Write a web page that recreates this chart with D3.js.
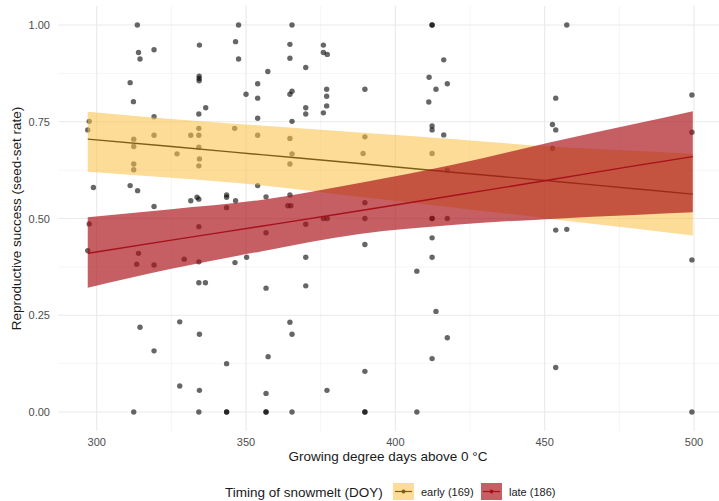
<!DOCTYPE html>
<html>
<head>
<meta charset="utf-8">
<script src="https://cdn.jsdelivr.net/npm/d3@7"></script>
<style>
  body { margin: 0; background: #fff; }
  text { font-family: "Liberation Sans", Arial, sans-serif; }
</style>
</head>
<body>
<script>
// observed data: growing degree days vs seed-set rate
var gdd = [313.6,347.5,365.4,412.3,412.3,457.4,
  314,314.5,319.2,334.4,346.5,347.5,364.7,364.7,375.9,375.9,377.2,416.2,
  370,357.3,311.2,334.3,334.3,334.3,353.9,350,353.9,364.7,365.4,377,377,377,370,370,375.9,312.3,336.5,334.2,411.3,413.6,417.4,389.8,411.2,453.7,499.3,
  353.9,365.4,319.2,297.5,297,312.4,312.4,319.2,331.5,334.2,334.2,334.2,346.2,353.9,364.7,389.8,412.3,412.3,416.2,452.6,453.7,499.3,
  334.4,334.2,326.9,365.4,364.7,312.4,312.4,389.2,412.3,452.6,417.4,
  298.9,311.2,313.7,319.2,331.5,333.6,334.2,343.5,343.5,346.5,353.9,356.7,364.7,364,365,343.5,389.8,389.8,375.9,377.2,412.3,412.3,417.4,
  370,297.5,334.2,356.7,389.8,297,314,412.3,453.7,457.4,412.3,370,350.2,
  313.4,319.2,329.3,334.2,346.3,334.2,336.4,407.2,499.3,356.7,370,
  413.6,327.8,364.7,314.5,334.4,365.4,
  417.4,412.3,453.7,389.8,319.2,357.4,343.5,
  327.8,334.4,356.7,377.1,312.4,334.2,343.5,343.5,356.7,356.7,365.4,389.8,389.8,407.2,499.3];
var seedSet = [1,1,1,1,1,1,
  0.929,0.912,0.936,0.948,0.957,0.912,0.950,0.914,0.948,0.929,0.924,0.910,
  0.890,0.880,0.851,0.868,0.862,0.856,0.848,0.821,0.811,0.821,0.829,0.834,0.816,0.791,0.786,0.770,0.773,0.802,0.786,0.770,0.865,0.834,0.848,0.834,0.801,0.811,0.819,
  0.759,0.751,0.763,0.751,0.729,0.705,0.686,0.715,0.715,0.733,0.715,0.684,0.733,0.715,0.707,0.711,0.739,0.729,0.716,0.743,0.729,0.723,
  0.654,0.636,0.667,0.667,0.641,0.641,0.626,0.668,0.668,0.681,0.625,
  0.580,0.585,0.572,0.531,0.546,0.555,0.550,0.561,0.555,0.546,0.585,0.556,0.561,0.533,0.533,0.528,0.541,0.500,0.500,0.500,0.500,0.500,0.500,
  0.485,0.486,0.479,0.463,0.433,0.417,0.410,0.450,0.470,0.472,0.400,0.400,0.400,
  0.382,0.380,0.395,0.388,0.386,0.334,0.334,0.364,0.393,0.320,0.326,
  0.260,0.233,0.232,0.219,0.201,0.201,
  0.192,0.138,0.115,0.105,0.158,0.143,0.125,
  0.067,0.056,0.048,0.056,0,0,0,0,0,0,0,0,0,0,0];

// fitted curves with confidence bands
var fitGdd = [297, 325, 355, 388, 420, 452, 480, 499.6];
var earlyFit = [0.705, 0.686, 0.665, 0.642, 0.619, 0.597, 0.577, 0.563];
var earlyLow = [0.621, 0.605, 0.586, 0.556, 0.528, 0.499, 0.474, 0.456];
var earlyHigh = [0.776, 0.757, 0.740, 0.722, 0.705, 0.686, 0.675, 0.667];
var lateFit = [0.410, 0.444, 0.480, 0.520, 0.560, 0.600, 0.636, 0.660];
var lateLow = [0.321, 0.370, 0.415, 0.460, 0.484, 0.499, 0.509, 0.516];
var lateHigh = [0.503, 0.524, 0.548, 0.592, 0.640, 0.697, 0.744, 0.777];

var xTicks = [300, 350, 400, 450, 500];
var xMinor = [325, 375, 425, 475];
var yTicks = [0, 0.25, 0.5, 0.75, 1];
var yMinor = [0.125, 0.375, 0.625, 0.875];
var groupLabels = ["early (169)", "late (186)"];

var width = 719, height = 501;
var panel = {left: 58, right: 719, top: 6, bottom: 431};
var ribbonFill = ["rgb(250,192,68)", "rgb(168,16,22)"];
var ribbonAlpha = [0.56, 0.67];
var lineColor = ["#7d5e18", "#a8101a"];

var svg = d3.select("body").append("svg")
  .attr("width", width)
  .attr("height", height);

var x = d3.scaleLinear().domain([300, 500]).range([96.7, 694]);
var y = d3.scaleLinear().domain([0, 1]).range([412, 25]);

// grid
var grid = svg.append("g");
grid.selectAll(".xminor").data(xMinor).enter().append("line")
  .attr("x1", d => x(d)).attr("x2", d => x(d))
  .attr("y1", panel.top).attr("y2", panel.bottom)
  .attr("stroke", "#f1f1f1").attr("stroke-width", 0.7);
grid.selectAll(".yminor").data(yMinor).enter().append("line")
  .attr("x1", panel.left).attr("x2", panel.right)
  .attr("y1", d => y(d)).attr("y2", d => y(d))
  .attr("stroke", "#f1f1f1").attr("stroke-width", 0.7);
grid.selectAll(".xmajor").data(xTicks).enter().append("line")
  .attr("x1", d => x(d)).attr("x2", d => x(d))
  .attr("y1", panel.top).attr("y2", panel.bottom)
  .attr("stroke", "#e9e9e9").attr("stroke-width", 1.1);
grid.selectAll(".ymajor").data(yTicks).enter().append("line")
  .attr("x1", panel.left).attr("x2", panel.right)
  .attr("y1", d => y(d)).attr("y2", d => y(d))
  .attr("stroke", "#e9e9e9").attr("stroke-width", 1.1);

// points
svg.append("g").selectAll("circle")
  .data(d3.range(gdd.length))
  .enter().append("circle")
  .attr("cx", i => x(gdd[i]))
  .attr("cy", i => y(seedSet[i]))
  .attr("r", 2.7)
  .attr("fill", "#000")
  .attr("fill-opacity", 0.6);

// ribbons and lines
var groups = [
  {low: earlyLow, high: earlyHigh, fit: earlyFit},
  {low: lateLow, high: lateHigh, fit: lateFit}
];
var area = d3.area()
  .x(d => x(d.gdd))
  .y0(d => y(d.low))
  .y1(d => y(d.high))
  .curve(d3.curveMonotoneX);
var line = d3.line()
  .x(d => x(d.gdd))
  .y(d => y(d.fit))
  .curve(d3.curveMonotoneX);

groups.forEach(function(g, k) {
  var rows = fitGdd.map((v, i) => ({gdd: v, low: g.low[i], high: g.high[i], fit: g.fit[i]}));
  svg.append("path")
    .datum(rows)
    .attr("fill", ribbonFill[k])
    .attr("fill-opacity", ribbonAlpha[k])
    .attr("d", area);
  svg.append("path")
    .datum(rows)
    .attr("fill", "none")
    .attr("stroke", lineColor[k])
    .attr("stroke-width", 1.4)
    .attr("d", line);
});

// axes labels
svg.append("g").selectAll("text").data(xTicks).enter().append("text")
  .attr("x", d => x(d)).attr("y", 446)
  .attr("text-anchor", "middle")
  .attr("font-size", 11).attr("fill", "#4d4d4d")
  .text(d => d);
svg.append("g").selectAll("text").data(yTicks).enter().append("text")
  .attr("x", 50).attr("y", d => y(d) + 4)
  .attr("text-anchor", "end")
  .attr("font-size", 11).attr("fill", "#4d4d4d")
  .text(d => d3.format(".2f")(d));

svg.append("text")
  .attr("x", (panel.left + 718) / 2).attr("y", 461)
  .attr("text-anchor", "middle")
  .attr("font-size", 13.5).attr("fill", "#1a1a1a")
  .text("Growing degree days above 0 °C");
svg.append("text")
  .attr("transform", "translate(21," + ((panel.top + panel.bottom) / 2) + ") rotate(-90)")
  .attr("text-anchor", "middle")
  .attr("font-size", 13.5).attr("fill", "#1a1a1a")
  .text("Reproductive success (seed-set rate)");

// legend
var legend = svg.append("g");
legend.append("text")
  .attr("x", 225).attr("y", 497)
  .attr("font-size", 13.5).attr("fill", "#1a1a1a")
  .text("Timing of snowmelt (DOY)");
var keyX = [393, 481];
var labelX = [421, 509];
groupLabels.forEach(function(lab, k) {
  legend.append("rect")
    .attr("x", keyX[k]).attr("y", 483)
    .attr("width", 21).attr("height", 17)
    .attr("fill", ribbonFill[k]).attr("fill-opacity", ribbonAlpha[k]);
  legend.append("line")
    .attr("x1", keyX[k] + 2).attr("x2", keyX[k] + 19)
    .attr("y1", 491.5).attr("y2", 491.5)
    .attr("stroke", lineColor[k]).attr("stroke-width", 1.2);
  legend.append("circle")
    .attr("cx", keyX[k] + 10.5).attr("cy", 491.5).attr("r", 2)
    .attr("fill", lineColor[k]);
  legend.append("text")
    .attr("x", labelX[k]).attr("y", 496)
    .attr("font-size", 11).attr("fill", "#1a1a1a")
    .text(lab);
});
</script>
</body>
</html>
